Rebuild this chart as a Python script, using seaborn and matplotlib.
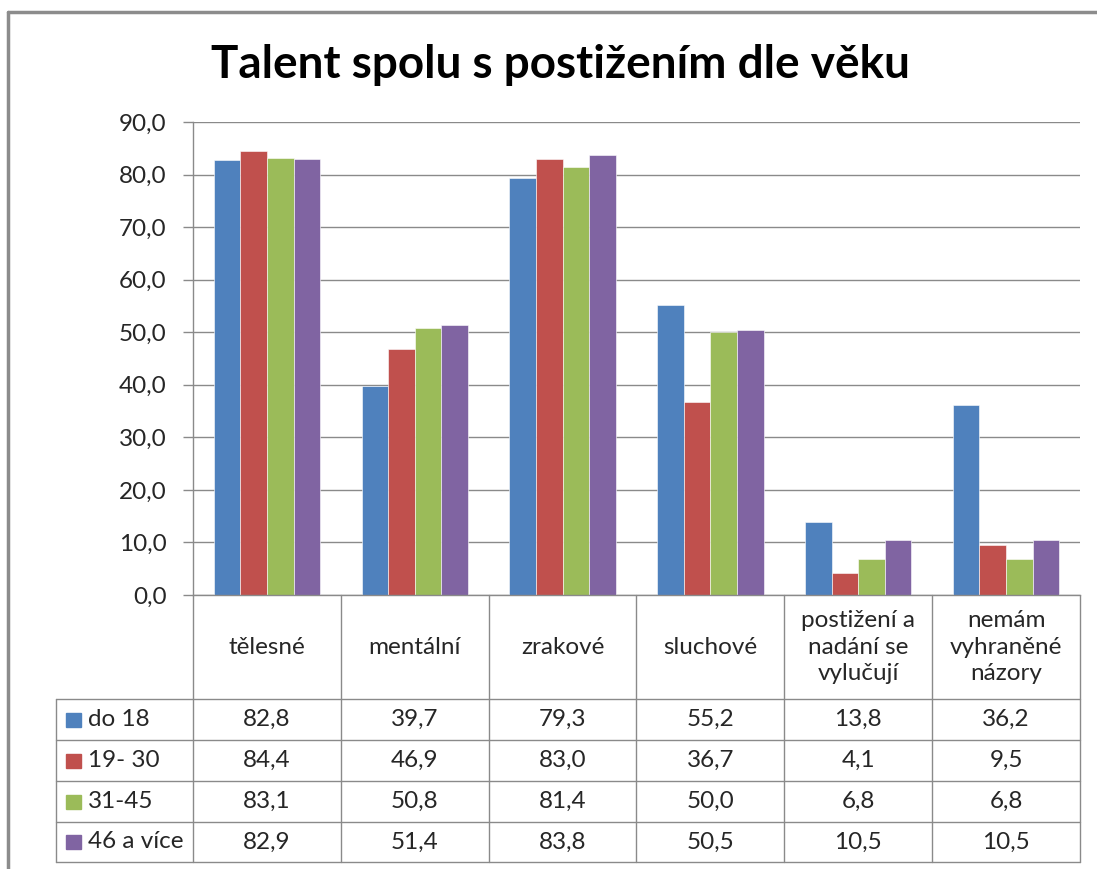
import numpy as np
import pandas as pd
import matplotlib
matplotlib.use("Agg")
import matplotlib.pyplot as plt
import seaborn as sns
from matplotlib.lines import Line2D
from matplotlib.patches import Rectangle
from matplotlib.transforms import blended_transform_factory

categories = ["tělesné", "mentální", "zrakové", "sluchové",
              "postižení a\nnadání se\nvylučují", "nemám\nvyhraněné\nnázory"]
age_groups = ["do 18", "19- 30", "31-45", "46 a více"]
do_18 = [82.8, 39.7, 79.3, 55.2, 13.8, 36.2]
age_19_30 = [84.4, 46.9, 83.0, 36.7, 4.1, 9.5]
age_31_45 = [83.1, 50.8, 81.4, 50.0, 6.8, 6.8]
age_46_plus = [82.9, 51.4, 83.8, 50.5, 10.5, 10.5]
colors = ["#4F81BD", "#C0504D", "#9BBB59", "#8064A2"]

series = [do_18, age_19_30, age_31_45, age_46_plus]
df = pd.DataFrame({
    "kategorie": np.repeat([categories], 4, axis=0).ravel(),
    "vek": np.repeat(age_groups, len(categories)),
    "hodnota": np.concatenate(series),
})

sns.set_style("white")
plt.rcParams["font.family"] = ["Lato", "DejaVu Sans"]

W, H = 1097, 869
fig = plt.figure(figsize=(W / 100, H / 100), dpi=100)
ax_top, ax_bottom, ax_left, ax_right = 122, 595, 193, 1080
ax = fig.add_axes([ax_left / W, 1 - ax_bottom / H, (ax_right - ax_left) / W, (ax_bottom - ax_top) / H])

sns.barplot(data=df, x="kategorie", y="hodnota", hue="vek", hue_order=age_groups,
            palette=colors, saturation=1, width=0.72, ax=ax, legend=False,
            edgecolor="white", linewidth=0.4)

grid_c = "#8a8a8a"
txt_c = "#262626"
fs = 17.5
ax.set_xlim(-0.5, len(categories) - 0.5)
ax.set_ylim(0, 90)
ax.set_yticks(np.arange(0, 91, 10))
ax.set_yticklabels([f"{t:.1f}".replace(".", ",") for t in np.arange(0, 91, 10)],
                   fontsize=fs, color=txt_c)
ax.set_xticks([])
ax.set_xlabel("")
ax.set_ylabel("")
ax.yaxis.grid(True, color=grid_c, lw=1)
ax.set_axisbelow(True)
for s in ["top", "right"]:
    ax.spines[s].set_visible(False)
for s in ["left", "bottom"]:
    ax.spines[s].set_color(grid_c)
    ax.spines[s].set_linewidth(1)
ax.tick_params(axis="y", length=7, width=1, color=grid_c, pad=12, left=True)

# data table under the bars
tr = blended_transform_factory(ax.transData, ax.transAxes)
ph = ax_bottom - ax_top
rows_px = [0, 104, 145, 186, 227, 267]
ry = [-r / ph for r in rows_px]
n = len(categories)
legend_left = -0.5 - (ax_left - 56) / 148

def line(xs, ys):
    ax.add_line(Line2D(xs, ys, transform=tr, color=grid_c, lw=1, clip_on=False))

for k in range(n + 1):
    line([k - 0.5, k - 0.5], [ry[0], ry[-1]])
for r in ry[1:]:
    line([legend_left, n - 0.5], [r, r])
line([legend_left, legend_left], [ry[1], ry[-1]])

for i, c in enumerate(categories):
    ax.text(i, (ry[0] + ry[1]) / 2, c, transform=tr, ha="center", va="center",
            fontsize=fs, color=txt_c, linespacing=1.3)

sq = 14 / ph
for j, (g, vals) in enumerate(zip(age_groups, series)):
    yc = (ry[j + 1] + ry[j + 2]) / 2
    ax.add_patch(Rectangle((legend_left + 10 / 148, yc - sq / 2), 15 / 148, sq, transform=tr,
                           color=colors[j], clip_on=False))
    ax.text(legend_left + 32 / 148, yc, g, transform=tr, ha="left", va="center",
            fontsize=fs, color=txt_c)
    for i, v in enumerate(vals):
        ax.text(i, yc, f"{v:.1f}".replace(".", ","), transform=tr, ha="center", va="center",
                fontsize=fs, color=txt_c)

fig.text(560 / W, 1 - 65 / H, "Talent spolu s postižením dle věku", ha="center", va="center",
         fontsize=33, fontweight="bold", color="black")

# outer chart frame (top and left edges only are inside the picture)
frame = dict(transform=fig.transFigure, color="#8c8c8c", lw=2.5)
fig.add_artist(Line2D([8 / W, 1.0], [1 - 12 / H, 1 - 12 / H], **frame))
fig.add_artist(Line2D([8 / W, 8 / W], [0.0, 1 - 12 / H], **frame))

fig.savefig("out.png", dpi=100, facecolor="white")
